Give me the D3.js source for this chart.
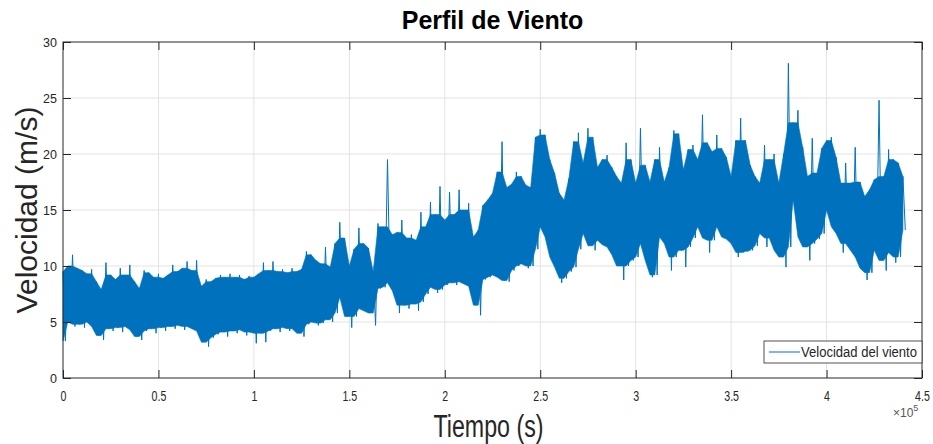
<!DOCTYPE html>
<html>
<head>
<meta charset="utf-8">
<script src="https://cdn.jsdelivr.net/npm/d3@7"></script>
<style>
  body { margin: 0; background: #fff; }
  text { font-family: "Liberation Sans", Arial, Helvetica, sans-serif; }
</style>
</head>
<body>
<svg id="chart" width="933" height="444"></svg>
<script>
// wind speed, one pair every 2500 s:
// upper and lower extent of the trace in each slice (m/s)
const step = 2500
const speedHigh = [
  9.5, 10.0, 11.0, 9.8, 9.6, 9.3, 9.7, 8.6, 7.9, 10.3,
  9.2, 8.8, 9.8, 9.2, 10.1, 8.6, 8.0, 9.6, 9.4, 9.0,
  9.3, 8.9, 9.2, 10.1, 9.5, 9.8, 10.4, 9.6, 10.5, 8.2,
  8.8, 8.6, 8.9, 9.2, 9.0, 9.3, 9.0, 9.2, 8.8, 9.1,
  9.0, 9.3, 10.3, 9.6, 10.4, 9.5, 9.7, 9.4, 9.8, 9.5,
  9.7, 11.3, 11.0, 10.5, 10.2, 11.7, 9.9, 12.0, 13.9, 12.5,
  10.0, 11.5, 13.4, 12.0, 11.6, 9.5, 13.8, 13.5, 19.5, 12.8,
  13.0, 14.1, 12.5, 12.8, 12.3, 14.8, 13.5, 15.7, 14.6, 17.1,
  14.1, 16.6, 14.6, 16.8, 15.0, 15.6, 12.6, 13.2, 15.4, 15.9,
  16.5, 18.4, 21.1, 17.0, 17.3, 18.4, 18.0, 17.2, 17.0, 21.5,
  22.2, 21.7, 19.5, 18.3, 16.5, 15.9, 17.8, 21.1, 21.9, 19.2,
  22.3, 21.5, 18.8, 19.5, 19.9, 18.8, 18.0, 17.4, 21.0, 19.5,
  17.4, 22.3, 19.0, 17.5, 19.5, 20.6, 17.5, 18.8, 22.1, 21.8,
  18.6, 20.4, 20.8, 19.5, 23.5, 21.0, 20.2, 21.7, 20.5, 19.7,
  18.0, 21.2, 23.2, 21.2, 19.0, 18.0, 17.4, 20.8, 19.5, 20.0,
  17.4, 20.0, 28.1, 22.8, 23.9, 20.6, 18.0, 21.4, 18.3, 20.5,
  21.2, 21.5, 19.7, 17.4, 19.2, 17.4, 20.6, 17.5, 16.2, 16.8,
  17.7, 24.8, 18.0, 20.4, 19.5, 19.2, 18.0
]
const speedLow = [
  3.3, 5.0, 4.6, 4.8, 4.5, 5.0, 4.6, 3.8, 3.4, 4.4,
  4.2, 4.5, 4.1, 4.6, 4.3, 3.7, 3.4, 4.2, 4.4, 4.0,
  4.5, 4.2, 4.6, 4.4, 4.7, 4.3, 4.6, 4.4, 4.2, 3.2,
  2.8, 3.6, 3.9, 4.1, 3.7, 4.2, 4.0, 4.3, 3.8, 4.1,
  3.1, 4.0, 3.2, 4.2, 4.4, 4.1, 4.5, 4.2, 4.4, 4.0,
  3.7, 4.8, 5.0, 4.7, 4.9, 5.2, 5.0, 5.8, 7.2, 5.5,
  4.5, 5.5, 6.2, 6.0, 5.8, 4.7, 8.0, 8.1, 8.5, 7.8,
  5.8, 6.5, 6.2, 6.6, 6.0, 6.8, 7.5, 8.1, 7.6, 7.9,
  8.3, 8.5, 8.3, 8.6, 8.4, 8.2, 6.5, 5.6, 8.8, 9.0,
  9.2, 9.0, 8.7, 8.6, 9.6, 10.0, 10.2, 9.8, 10.0, 11.5,
  13.5, 12.6, 10.8, 9.9, 8.5, 8.9, 9.5, 9.9, 11.5, 12.9,
  11.8, 11.4, 12.3, 11.9, 11.7, 11.0, 10.0, 8.75, 10.0, 10.5,
  10.8, 12.0, 10.5, 9.0, 9.2, 12.6, 12.0, 9.6, 10.8, 11.4,
  9.9, 11.7, 12.5, 13.5, 12.5, 11.2, 12.3, 13.5, 12.6, 12.4,
  12.0, 10.8, 11.2, 11.3, 11.4, 11.8, 12.9, 11.7, 12.5, 11.4,
  10.8, 9.9, 11.7, 15.9, 12.6, 11.7, 10.5, 12.0, 12.4, 12.9,
  15.0, 13.5, 12.9, 11.2, 12.0, 11.4, 10.8, 9.8, 8.75, 9.4,
  11.4, 10.5, 9.6, 11.2, 10.3, 10.8, 13.2
]

const xTicks = [0, 50000, 100000, 150000, 200000, 250000, 300000, 350000, 400000, 450000]
const xTickLabels = ['0', '0.5', '1', '1.5', '2', '2.5', '3', '3.5', '4', '4.5']
const yTicks = [0, 5, 10, 15, 20, 25, 30]

const width = 933
const height = 444
const margin = { top: 42, right: 11, bottom: 66, left: 63 }
const plotW = width - margin.left - margin.right
const plotH = height - margin.top - margin.bottom

const lineColor = '#0072BD'
const axisColor = '#262626'
const gridColor = '#e3e3e3'

// dense body of the trace: a lone spike is left to the line alone
let last = speedHigh.length - 1
let slices = speedHigh.map((v, i) => {
  let a = Math.max(0, i - 1)
  let b = Math.min(last, i + 1)
  return {
    t: i * step,
    hi: Math.min(v, Math.max(speedHigh[a], speedHigh[b])),
    lo: Math.max(speedLow[i], Math.min(speedLow[a], speedLow[b]))
  }
})

// the trace swings from the top to the bottom of every slice
let points = []
speedHigh.forEach((v, i) => {
  points.push({ t: i * step, v: v })
  points.push({ t: i * step + step / 2, v: speedLow[i] })
})

let $svg = d3.select('#chart')

let x = d3.scaleLinear().domain([0, 450000]).range([0, plotW])
let y = d3.scaleLinear().domain([0, 30]).range([plotH, 0])

let $plot = $svg.append('g')
  .attr('transform', `translate(${margin.left},${margin.top})`)

// grid
let $grid = $plot.append('g').attr('class', 'grid')
$grid.selectAll('line.gx')
  .data(xTicks.slice(1, -1))
  .enter().append('line')
  .attr('class', 'gx')
  .attr('x1', d => x(d)).attr('x2', d => x(d))
  .attr('y1', 0).attr('y2', plotH)
  .attr('stroke', gridColor)
$grid.selectAll('line.gy')
  .data(yTicks.slice(1, -1))
  .enter().append('line')
  .attr('class', 'gy')
  .attr('x1', 0).attr('x2', plotW)
  .attr('y1', d => y(d)).attr('y2', d => y(d))
  .attr('stroke', gridColor)

let areaFunction = d3.area()
  .x(d => x(d.t))
  .y0(d => y(d.lo))
  .y1(d => y(d.hi))

$plot.append('path')
  .attr('d', areaFunction(slices))
  .attr('fill', lineColor)
  .attr('stroke', lineColor)
  .attr('stroke-width', 0.6)

let lineFunction = d3.line()
  .x(d => x(d.t))
  .y(d => y(d.v))

$plot.append('path')
  .attr('d', lineFunction(points))
  .attr('fill', 'none')
  .attr('stroke', lineColor)
  .attr('stroke-width', 1)

// axes, ticks pointing inward on all four sides
function styleAxis($g) {
  $g.select('.domain').remove()
  $g.selectAll('line').attr('stroke', axisColor)
  $g.selectAll('text')
    .attr('fill', axisColor)
    .style('font-size', '12.5px')
}

let $xAxis = $plot.append('g')
  .attr('transform', `translate(0,${plotH})`)
  .call(d3.axisBottom(x)
    .tickValues(xTicks)
    .tickFormat((d, i) => xTickLabels[i])
    .tickSizeInner(-8)
    .tickSizeOuter(0)
    .tickPadding(11))
styleAxis($xAxis)
$xAxis.selectAll('text').attr('transform', 'scale(0.85,1.15)')

let $xTop = $plot.append('g')
  .call(d3.axisTop(x).tickValues(xTicks).tickFormat('').tickSizeInner(-8).tickSizeOuter(0))
styleAxis($xTop)

let $yAxis = $plot.append('g')
  .call(d3.axisLeft(y)
    .tickValues(yTicks)
    .tickSizeInner(-8)
    .tickSizeOuter(0)
    .tickPadding(6))
styleAxis($yAxis)

let $yRight = $plot.append('g')
  .attr('transform', `translate(${plotW},0)`)
  .call(d3.axisRight(y).tickValues(yTicks).tickFormat('').tickSizeInner(-8).tickSizeOuter(0))
styleAxis($yRight)

// box
$plot.append('rect')
  .attr('width', plotW)
  .attr('height', plotH)
  .attr('fill', 'none')
  .attr('stroke', axisColor)
  .attr('stroke-width', 1)

// exponent
let $exp = $plot.append('text')
  .attr('x', plotW - 29)
  .attr('y', plotH + 39)
  .attr('fill', '#555')
  .style('font-size', '12px')
$exp.append('tspan').text('×10')
$exp.append('tspan').attr('dy', -6).style('font-size', '9px').text('5')

// legend
let $legend = $plot.append('g')
  .attr('transform', `translate(${plotW - 158},${plotH - 37})`)
$legend.append('rect')
  .attr('width', 158)
  .attr('height', 22)
  .attr('fill', '#fff')
  .attr('stroke', axisColor)
  .attr('stroke-width', 0.8)
$legend.append('line')
  .attr('x1', 5).attr('x2', 36)
  .attr('y1', 11).attr('y2', 11)
  .attr('stroke', lineColor)
  .attr('stroke-width', 1)
$legend.append('text')
  .attr('x', 37)
  .attr('y', 16)
  .attr('fill', axisColor)
  .attr('textLength', 116)
  .attr('lengthAdjust', 'spacingAndGlyphs')
  .style('font-size', '14px')
  .text('Velocidad del viento')

// titles
$svg.append('text')
  .attr('x', margin.left + plotW / 2)
  .attr('y', 29)
  .attr('text-anchor', 'middle')
  .attr('fill', '#000')
  .style('font-size', '25px')
  .style('font-weight', 'bold')
  .text('Perfil de Viento')

$svg.append('text')
  .attr('transform', `translate(37,${margin.top + plotH / 2}) rotate(-90)`)
  .attr('text-anchor', 'middle')
  .attr('fill', axisColor)
  .style('font-size', '30px')
  .text('Velocidad (m/s)')

$svg.append('text')
  .attr('x', margin.left + plotW / 2 - 4)
  .attr('y', 437)
  .attr('text-anchor', 'middle')
  .attr('fill', axisColor)
  .attr('textLength', 110)
  .attr('lengthAdjust', 'spacingAndGlyphs')
  .style('font-size', '31px')
  .text('Tiempo (s)')
</script>
</body>
</html>
